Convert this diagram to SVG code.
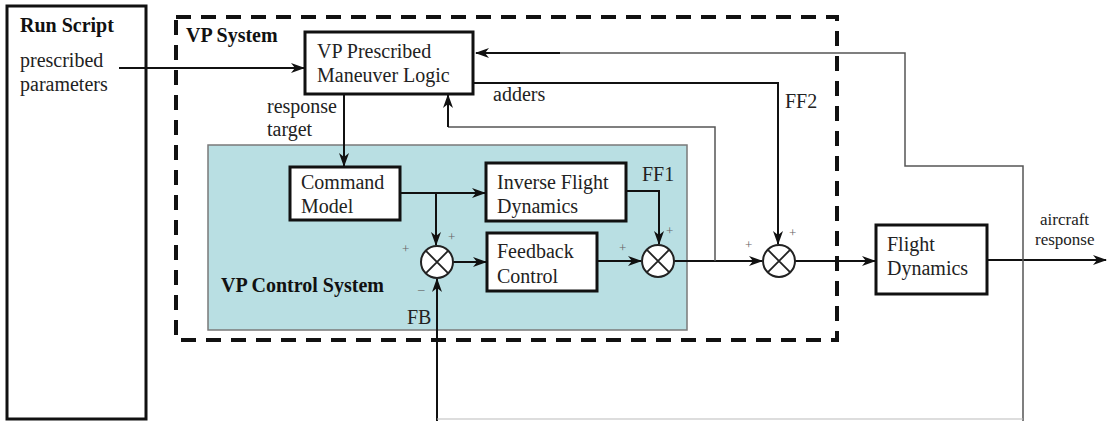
<svg xmlns="http://www.w3.org/2000/svg" width="1108" height="421" viewBox="0 0 1108 421" font-family="'Liberation Serif', 'DejaVu Serif', serif">
  <defs>
    <marker id="arrow" viewBox="0 0 14 10" refX="13" refY="5" markerWidth="14" markerHeight="10" markerUnits="userSpaceOnUse" orient="auto">
      <path d="M0,0 L14,5 L0,10 L4,5 Z" fill="#111"/>
    </marker>
  </defs>
  <style>
    .box { fill: #fff; stroke: #111; stroke-width: 3; }
    .sum { fill: #fff; stroke: #222; stroke-width: 2; }
    .cross { stroke: #222; stroke-width: 1.8; }
    .wire { fill: none; stroke: #111; stroke-width: 2; }
    .thin { fill: none; stroke: #555; stroke-width: 1.5; }
    .arr { marker-end: url(#arrow); }
    text { font-family: 'Liberation Serif', 'DejaVu Serif', serif; fill: #222; }
    .lbl { font-size: 20px; }
    .bold { font-size: 20px; font-weight: bold; fill: #111; }
    .sign { font-size: 13px; fill: #666; }
    .small { font-size: 17px; }
  </style>

  <rect width="1108" height="421" fill="#fff"/>

  <!-- run script block -->
  <g id="run-script">
    <rect x="7" y="6" width="139" height="413" class="box"/>
    <text x="20" y="32" class="bold">Run Script</text>
    <text x="20" y="67" class="lbl">prescribed</text>
    <text x="20" y="91" class="lbl">parameters</text>
  </g>

  <!-- VP system boundary -->
  <g id="vp-system">
    <rect x="176" y="17" width="661" height="323" fill="none" stroke="#111" stroke-width="4" stroke-dasharray="15 10"/>
    <text x="186" y="42" class="bold">VP System</text>
  </g>

  <!-- VP control system region -->
  <g id="vp-control-system">
    <rect x="208" y="145" width="479" height="185" fill="#b9dfe3" stroke="#7a7a7a" stroke-width="1.5"/>
    <text x="221" y="292" class="bold">VP Control System</text>
  </g>

  <g id="maneuver-logic">
    <rect x="305" y="32" width="168" height="62" class="box"/>
    <text x="317" y="58" class="lbl">VP Prescribed</text>
    <text x="317" y="82" class="lbl">Maneuver Logic</text>
  </g>

  <g id="command-model">
    <rect x="290" y="167" width="110" height="53" class="box"/>
    <text x="301" y="189" class="lbl">Command</text>
    <text x="301" y="213" class="lbl">Model</text>
  </g>

  <g id="inverse-flight-dynamics">
    <rect x="486" y="163" width="140" height="58" class="box"/>
    <text x="497" y="189" class="lbl">Inverse Flight</text>
    <text x="497" y="213" class="lbl">Dynamics</text>
  </g>

  <g id="feedback-control">
    <rect x="487" y="233" width="110" height="58" class="box"/>
    <text x="497" y="258" class="lbl">Feedback</text>
    <text x="497" y="283" class="lbl">Control</text>
  </g>

  <g id="flight-dynamics">
    <rect x="876" y="225" width="111" height="69" class="box"/>
    <text x="887" y="251" class="lbl">Flight</text>
    <text x="887" y="275" class="lbl">Dynamics</text>
  </g>

  <!-- connectors -->
  <g id="connectors">
    <path d="M119,68 H304" class="wire arr"/>
    <path d="M344,94 V166" class="wire arr"/>
    <path d="M400,193 H485" class="wire arr"/>
    <path d="M436,193 V245" class="wire arr"/>
    <path d="M437,421 V279" class="wire arr"/>
    <path d="M453,262 H486" class="wire arr"/>
    <path d="M597,261 H641" class="wire arr"/>
    <path d="M626,191 H659 V244" class="wire arr"/>
    <path d="M674,261 H762" class="wire arr" stroke-width="2.5"/>
    <path d="M473,83 H778 V244" class="wire arr"/>
    <path d="M795,261 H875" class="wire arr"/>
    <path d="M987,260 H1106" class="wire arr"/>
    <path d="M715,261 V127 H448" class="thin"/>
    <path d="M448,127 V95" class="wire arr"/>
    <path d="M1023,421 V166 H905 V53 H560" class="thin"/>
    <path d="M560,53 H476" class="wire arr"/>
    <path d="M437,419 H1023" stroke="#bbb" stroke-width="1.2" fill="none"/>
  </g>

  <!-- summing junctions -->
  <g id="sum-fb">
    <circle cx="437" cy="262" r="16" class="sum"/>
    <path d="M425.7,250.7 L448.3,273.3 M448.3,250.7 L425.7,273.3" class="cross"/>
    <text x="402" y="253" class="sign">+</text>
    <text x="448" y="241" class="sign">+</text>
    <text x="418" y="293" class="sign">–</text>
  </g>
  <g id="sum-ff1">
    <circle cx="658" cy="261" r="16" class="sum"/>
    <path d="M646.7,249.7 L669.3,272.3 M669.3,249.7 L646.7,272.3" class="cross"/>
    <text x="619" y="252" class="sign">+</text>
    <text x="666" y="235" class="sign">+</text>
  </g>
  <g id="sum-ff2">
    <circle cx="779" cy="261" r="16" class="sum"/>
    <path d="M767.7,249.7 L790.3,272.3 M790.3,249.7 L767.7,272.3" class="cross"/>
    <text x="745" y="249" class="sign">+</text>
    <text x="789" y="237" class="sign">+</text>
  </g>

  <!-- signal labels -->
  <g id="labels">
    <text x="267" y="113" class="lbl">response</text>
    <text x="267" y="136" class="lbl">target</text>
    <text x="493" y="101" class="lbl">adders</text>
    <text x="785" y="108" class="lbl" fill="#333">FF2</text>
    <text x="642" y="181" class="lbl" fill="#333">FF1</text>
    <text x="407" y="324" class="lbl" fill="#333">FB</text>
    <text x="1040" y="225" class="small">aircraft</text>
    <text x="1035" y="245" class="small">response</text>
  </g>
</svg>
